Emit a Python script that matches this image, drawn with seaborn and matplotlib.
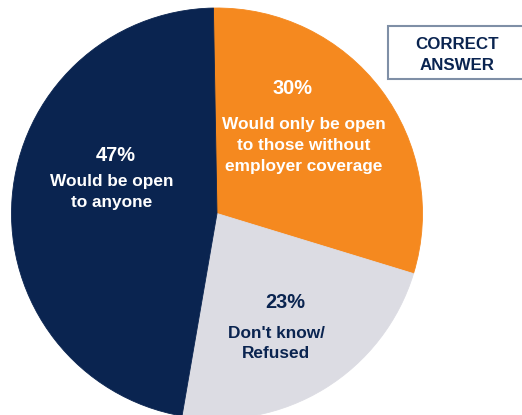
import matplotlib
matplotlib.use("Agg")
import matplotlib.pyplot as plt
from matplotlib.patches import Rectangle
import seaborn as sns

# ---- data ----
categories = ["Would only be open\nto those without\nemployer coverage",
              "Don't know/\nRefused",
              "Would be open\nto anyone"]
values = [30, 23, 47]
pct_labels = ["30%", "23%", "47%"]
colors = ["#F5891F", "#DCDCE3", "#0A2450"]
text_colors = ["white", "#0A2450", "white"]
box_text = "CORRECT\nANSWER"

sns.set_theme(style="white")
plt.rcParams["font.family"] = ["Liberation Sans", "DejaVu Sans"]

W, H = 522, 415
fig = plt.figure(figsize=(W / 100, H / 100), dpi=100)
ax = fig.add_axes([0, 0, 1, 1])

# pie geometry in pixels
cx, cy, R = 217.0, 213.5, 205.5

def px(x, y):
    return (x - cx) / R, (cy - y) / R

wedges, _ = ax.pie(values, colors=colors, startangle=91, counterclock=False,
                   radius=1.0, center=(0, 0),
                   wedgeprops=dict(linewidth=0.6))
for w in wedges:
    w.set_edgecolor(w.get_facecolor())
ax.set_xlim(-cx / R, (W - cx) / R)
ax.set_ylim(-(H - cy) / R, cy / R)
ax.set_aspect("auto")
ax.axis("off")

# label layout (pixel positions of pct baseline and description lines)
layout = [
    dict(pct=(293, 94.5), desc_x=304, desc_y=[129.5, 150.5, 171.5]),
    dict(pct=(285, 308.5), desc_x=276, desc_y=[337.5, 358]),
    dict(pct=(116, 161), desc_x=112, desc_y=[186, 206.5]),
]
for cat, pct, tc, lay in zip(categories, pct_labels, text_colors, layout):
    x, y = px(*lay["pct"])
    ax.text(x, y, pct, color=tc, fontsize=14.4, fontweight="bold",
            ha="center", va="baseline")
    for line, ly in zip(cat.split("\n"), lay["desc_y"]):
        x, y = px(lay["desc_x"], ly)
        ax.text(x, y, line, color=tc, fontsize=12.4, fontweight="bold",
                ha="center", va="baseline")

# "CORRECT ANSWER" box
x0, y0 = px(388, 79)
x1, y1 = px(530, 26.5)
ax.add_patch(Rectangle((x0, y0), x1 - x0, y1 - y0, facecolor="white",
                       edgecolor="#7F8FA6", linewidth=1.5, clip_on=False))
for line, ly in zip(box_text.split("\n"), [49.5, 70]):
    x, y = px(457, ly)
    ax.text(x, y, line, color="#0A2450", fontsize=12.2, fontweight="bold",
            ha="center", va="baseline")

fig.savefig("out.png", dpi=100, facecolor="white")
